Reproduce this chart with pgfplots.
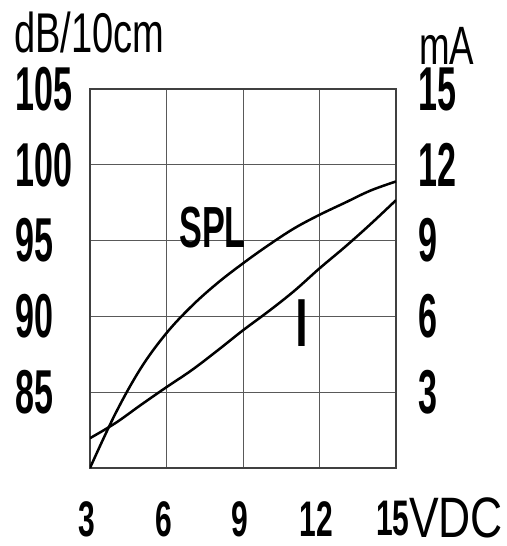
\documentclass[border=0pt]{standalone}
\usepackage{fontspec}
\setmainfont{Liberation Sans}
\newfontfamily\numfont{Liberation Sans Bold}[FakeStretch=0.55]
\newfontfamily\xnumfont{Liberation Sans Bold}[FakeStretch=0.6]
\newfontfamily\labfont{Liberation Sans}[FakeStretch=0.68]
\newfontfamily\splfont{Liberation Sans Bold}[FakeStretch=0.59]
\newfontfamily\vdcfont{Liberation Sans}[FakeStretch=0.78]
\usepackage{pgfplots}
\pgfplotsset{compat=1.18}

\pgfplotstableread{
x y
3 80
4 83.6
5 86.6
6 88.9
7 90.7
8 92.2
9 93.5
10 94.7
11 95.8
12 96.7
13 97.5
14 98.3
15 98.9
}\spl
\pgfplotstableread{
x y
3 1.18
4 1.78
5 2.5
6 3.2
7 3.88
8 4.65
9 5.45
10 6.2
11 7.0
12 7.9
13 8.75
14 9.65
15 10.6
}\cur

\begin{document}
\begin{tikzpicture}
\useasboundingbox (-90bp,-78bp) rectangle (417bp,468bp);
\begin{axis}[
 at={(0,0)}, anchor=south west,
 scale only axis, width=306bp, height=379bp,
 xmin=3, xmax=15, ymin=80, ymax=105,
 xtick={3,6,9,12,15}, ytick={85,90,95,100,105},
 xticklabels={3,6,9,12,15},
 yticklabels={85,90,95,100,\raisebox{-3bp}{105}},
 grid=major, major grid style={black!65, line width=0.9bp},
 axis line style={black!75, line width=1.2bp},
 major tick length=0pt,
 yticklabel style={anchor=west, inner sep=0pt, xshift=-75bp, font=\fontsize{62bp}{62bp}\numfont},
 xticklabel style={anchor=north, inner sep=0pt, yshift=-33bp, xshift=-3bp, font=\fontsize{50bp}{50bp}\xnumfont},
]
\addplot[black, line width=2.5bp, smooth, tension=0.6] table[x=x,y=y] {\spl};
\end{axis}
\begin{axis}[
 at={(0,0)}, anchor=south west,
 scale only axis, width=306bp, height=379bp,
 xmin=3, xmax=15, ymin=0, ymax=15,
 axis x line=none, axis y line*=right,
 axis line style={draw=none},
 ytick={3,6,9,12,15},
 yticklabels={3,6,9,12,\raisebox{-11bp}{15}},
 major tick length=0pt,
 yticklabel style={anchor=west, inner sep=0pt, xshift=22bp, font=\fontsize{62bp}{62bp}\numfont},
]
\addplot[black, line width=2.5bp, smooth, tension=0.6] table[x=x,y=y] {\cur};
\end{axis}
\node[anchor=base west, inner sep=0pt, font=\fontsize{56bp}{56bp}\labfont] at (-76bp,415bp) {dB/10cm};
\node[anchor=base west, inner sep=0pt, font=\fontsize{54bp}{54bp}\labfont] at (329bp,403bp) {mA};
\node[anchor=base west, inner sep=0pt, font=\fontsize{57bp}{57bp}\vdcfont] at (319bp,-69bp) {VDC};
\node[anchor=base west, inner sep=0pt, font=\fontsize{58bp}{58bp}\splfont] at (89bp,220bp) {SPL};
\node[anchor=base west, inner sep=0pt, font=\fontsize{68bp}{68bp}\selectfont] at (202bp,121bp) {I};
\end{tikzpicture}
\end{document}
